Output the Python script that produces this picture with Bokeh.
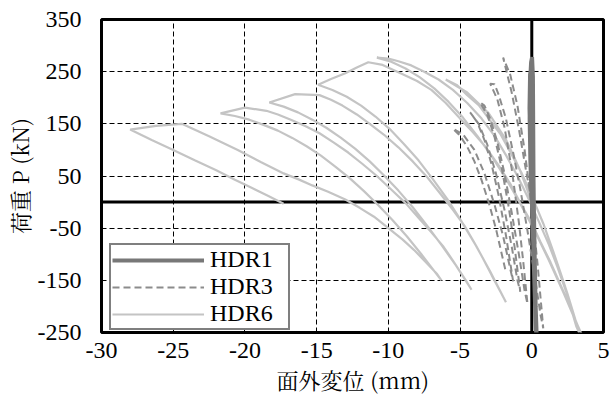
from bokeh.plotting import figure
from bokeh.models import FixedTicker, Span, Legend, LegendItem, Range1d, CustomJSTickFormatter
from bokeh.embed import file_html
from bokeh.resources import INLINE

# ---- data ----
x_ticks = [-30, -25, -20, -15, -10, -5, 0, 5]
y_ticks = [-250, -150, -50, 50, 150, 250, 350]
series_names = ["HDR1", "HDR3", "HDR6"]

# HDR1: narrow, almost vertical loops around zero displacement
hdr1_x = [0.0, -0.1, -0.15, -0.12, -0.05, 0.02, 0.08, 0.1, 0.12, 0.15, 0.2, 0.25, 0.32,
          0.22, 0.12, 0.02, -0.08, -0.16, -0.12, -0.02, 0.06, 0.1, 0.14, 0.2, 0.27, 0.35]
hdr1_p = [0, 80, 160, 230, 268, 278, 240, 150, 50, -50, -150, -220, -260,
          -190, -100, -10, 80, 180, 245, 262, 200, 100, 0, -100, -200, -262]

# HDR3: loops between about -5.5 mm and +0.8 mm
hdr3_x = [0.0, -0.4, -0.9, -1.4, -1.8, -2.0,
          -1.5, -1.0, -0.5, 0.0, 0.4, 0.8,
          0.6, 0.2, -0.3, -0.8, -1.3, -1.8, -2.3, -2.6, -2.9,
          -2.4, -1.9, -1.4, -0.9, -0.6, -0.3,
          -0.5, -0.9, -1.4, -1.9, -2.4, -2.9, -3.3, -3.6,
          -3.1, -2.6, -2.1, -1.6, -1.2, -0.8,
          -1.0, -1.4, -1.9, -2.5, -3.1, -3.7, -4.3,
          -3.8, -3.3, -2.8, -2.3, -1.8, -1.3,
          -1.5, -2.0, -2.6, -3.3, -4.0, -4.8, -5.5,
          -5.0, -4.5, -4.0, -3.5, -3.0, -2.5, -1.8]
hdr3_p = [0, 60, 140, 210, 255, 277,
          244, 185, 100, -11, -118, -242,
          -215, -140, -55, 25, 95, 160, 205, 226, 227,
          197, 143, 64, -39, -113, -195,
          -170, -100, -20, 55, 115, 160, 185, 191,
          167, 125, 66, -11, -86, -172,
          -150, -85, -15, 55, 110, 150, 172,
          153, 119, 72, 11, -64, -152,
          -128, -65, -5, 55, 100, 130, 141,
          127, 106, 78, 42, -1, -51, -135]

# HDR6: large loops reaching -28 mm
hdr6_x = [0.0, -0.8, -1.8, -3.0, -4.5, -6.0,
          -5.2, -4.5, -3.7, -3.0, -2.2, -1.5, -0.7, 0.0, 0.8, 1.5, 2.0, 2.5, 3.0, 3.3,
          3.1, 2.4, 1.8, 1.2, 0.5, -0.2, -1.0, -1.8, -2.6, -3.5, -4.5, -5.5, -6.5, -7.5,
          -8.4, -9.3, -10.0, -10.8,
          -9.8, -8.8, -7.8, -6.8, -5.8, -4.8, -3.8, -2.8, -1.8, -0.8, 0.2, 1.2, 2.2, 2.9, 3.45,
          3.3, 2.5, 1.9, 1.3, 0.6, 0.0, -0.8, -1.5, -2.3, -3.2, -4.1, -5.0, -6.0, -7.0,
          -8.0, -9.0, -10.4, -11.4, -12.2, -13.0, -14.0, -14.9,
          -13.9, -12.9, -11.9, -10.9, -9.9, -8.9, -7.9, -6.9, -5.9, -4.9, -3.9, -2.9, -1.8,
          -2.1, -2.8, -3.4, -4.0, -4.7, -5.5, -6.4, -7.3, -8.3, -9.3, -10.3, -11.3, -12.2,
          -13.2, -14.0, -14.8, -16.5, -18.3,
          -17.3, -16.3, -15.3, -14.3, -13.3, -12.3, -11.3, -10.3, -9.3, -8.3, -7.3, -6.3,
          -5.3, -4.2,
          -4.6, -5.5, -6.2, -7.0, -7.9, -8.8, -9.8, -10.8, -11.8, -12.8, -13.8, -14.8,
          -15.8, -16.8, -17.7, -18.5, -20.0, -21.7,
          -20.7, -19.7, -18.7, -17.7, -16.7, -15.7, -14.7, -13.7, -12.7, -11.7, -10.7,
          -9.7, -8.7, -7.7, -6.3,
          -6.6, -7.5, -8.2, -9.0, -10.0, -11.0, -12.0, -13.0, -14.2, -15.3, -16.3, -17.3,
          -18.9, -20.5, -22.5, -24.4, -26.2, -28.0,
          -26.5, -25.0, -23.5, -22.0, -20.7, -19.5, -18.4, -17.3]
hdr6_p = [0, 60, 120, 170, 210, 235,
          224, 205, 186, 160, 131, 96, 55, 12, -41, -95, -135, -177, -222, -250,
          -238, -172, -125, -82, -38, 5, 50, 90, 127, 160, 190, 215, 235, 250,
          262, 270, 275, 277,
          269, 256, 239, 218, 192, 162, 127, 88, 45, -3, -55, -112, -173, -218, -252,
          -243, -190, -152, -115, -76, -40, -2, 35, 70, 105, 134, 160, 190, 215,
          232, 245, 263, 268, 258, 247, 236, 225,
          215, 202, 185, 164, 140, 111, 80, 44, 6, -37, -83, -133, -192,
          -176, -140, -108, -78, -45, -15, 17, 48, 78, 105, 129, 150, 168,
          185, 196, 205, 207, 191,
          183, 172, 158, 142, 123, 102, 78, 51, 22, -10, -45, -82,
          -121, -168,
          -150, -112, -84, -58, -30, -2, 24, 50, 73, 95, 114, 132,
          146, 158, 168, 175, 181, 170,
          165, 158, 148, 137, 123, 107, 89, 68, 46, 21, -6,
          -35, -66, -100, -150,
          -138, -112, -92, -72, -50, -28, -11, 5, 20, 32, 44, 55,
          77, 100, 126, 150, 146, 139,
          119, 100, 80, 61, 43, 27, 12, -3]

FONT = "Liberation Serif"
CJK_FONT = "Noto Serif CJK JP"

p = figure(width=611, height=405,
           x_range=Range1d(-30, 5), y_range=Range1d(-250, 350),
           output_backend="svg", toolbar_location=None,
           min_border_left=97, min_border_right=8,
           min_border_top=19, min_border_bottom=73)

p.background_fill_color = "white"
p.border_fill_color = "white"
p.outline_line_color = "black"
p.outline_line_width = 3

# axes
p.xaxis.ticker = FixedTicker(ticks=x_ticks)
p.yaxis.ticker = FixedTicker(ticks=y_ticks)
for ax in (p.xaxis, p.yaxis):
    ax.formatter = CustomJSTickFormatter(code="return tick.toString();")
    ax.axis_line_color = None
    ax.major_tick_line_color = None
    ax.minor_tick_line_color = None
    ax.major_tick_out = 0
    ax.major_tick_in = 0
    ax.minor_tick_out = 0
    ax.major_label_text_font = FONT
    ax.major_label_text_font_size = "24px"
    ax.major_label_text_color = "black"
    ax.axis_label_text_font = CJK_FONT
    ax.axis_label_text_font_size = "22px"
    ax.axis_label_text_font_style = "normal"
    ax.axis_label_text_color = "black"
p.yaxis.major_label_standoff = 20
p.yaxis.axis_label_standoff = 0
p.xaxis.major_label_standoff = 10
p.xaxis.axis_label_standoff = 3
p.xaxis.axis_label = "面外変位 (mm)"
p.yaxis.axis_label = "荷重 P (kN)"

# grid
p.xgrid.ticker = FixedTicker(ticks=x_ticks)
p.ygrid.ticker = FixedTicker(ticks=y_ticks)
for g in (p.xgrid, p.ygrid):
    g.grid_line_color = "black"
    g.grid_line_dash = "5 3"
    g.grid_line_width = 1

# zero lines
p.add_layout(Span(location=0, dimension="height", line_color="black",
                  line_width=3, level="underlay"))
p.add_layout(Span(location=0, dimension="width", line_color="black",
                  line_width=3, level="underlay"))

r6 = p.line(hdr6_x, hdr6_p, line_color="#c4c4c4", line_width=2.2)
r3 = p.line(hdr3_x, hdr3_p, line_color="#8c8c8c", line_width=2, line_dash="7 4")
r1 = p.line(hdr1_x, hdr1_p, line_color="#787878", line_width=4)

legend = Legend(items=[LegendItem(label=series_names[0], renderers=[r1]),
                       LegendItem(label=series_names[1], renderers=[r3]),
                       LegendItem(label=series_names[2], renderers=[r6])],
                location=(8, 2), padding=1, spacing=0, margin=0,
                glyph_width=92, glyph_height=26, label_height=26,
                label_width=77, label_standoff=6,
                label_text_font=FONT, label_text_font_size="24px",
                label_text_color="black",
                border_line_color="black", border_line_width=2,
                background_fill_color="white", background_fill_alpha=1)
p.add_layout(legend)

open("out.html", "w").write(file_html(p, INLINE))
